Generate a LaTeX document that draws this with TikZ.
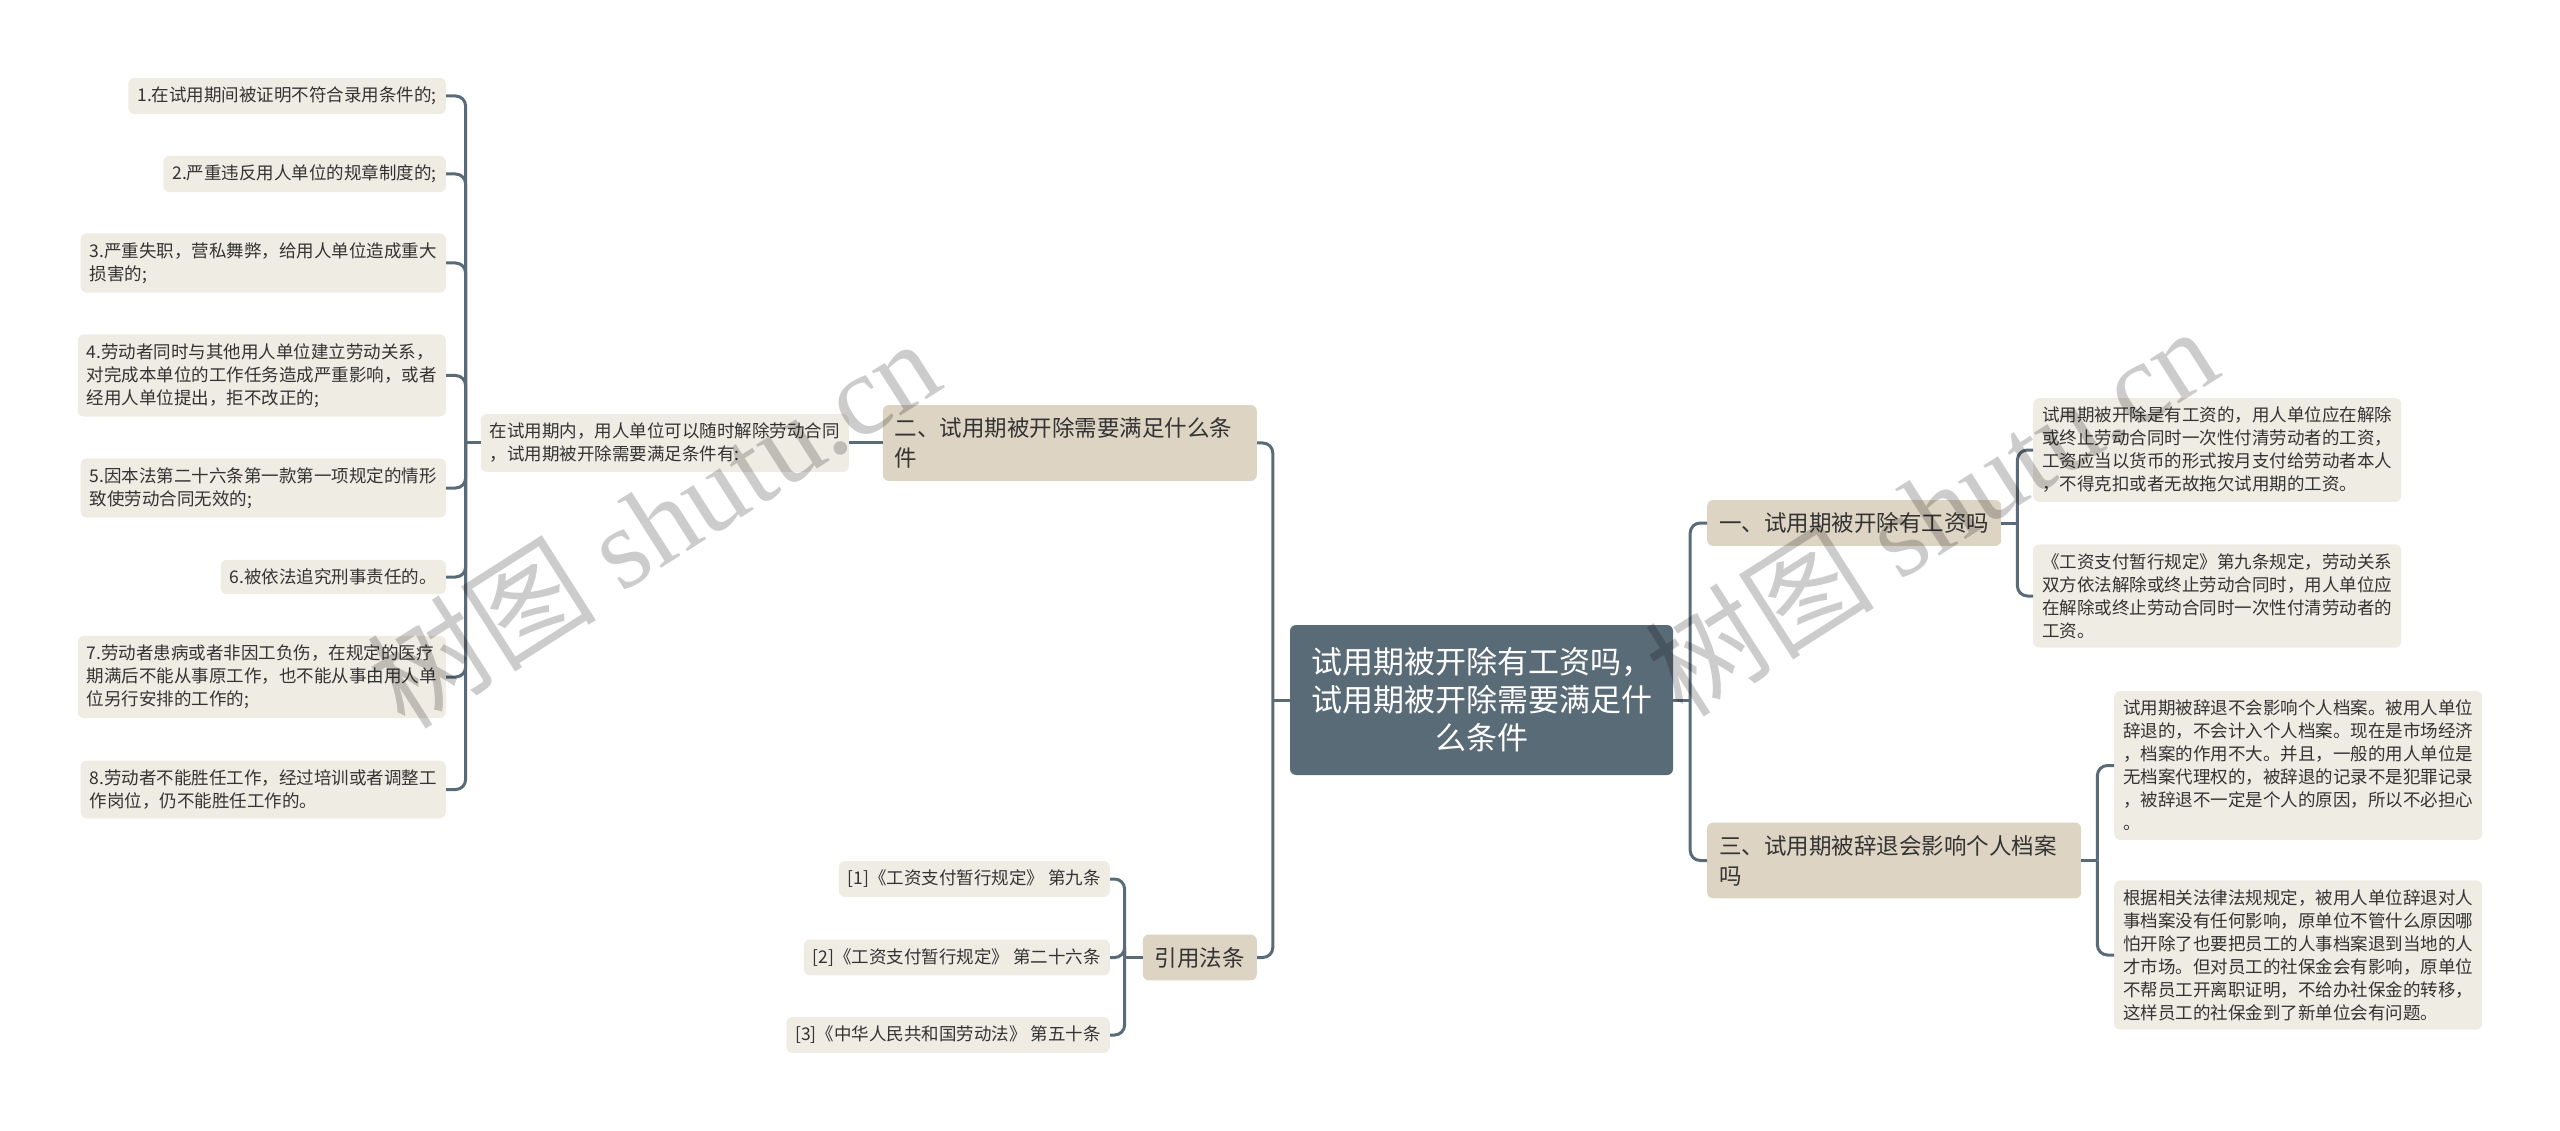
\documentclass[tikz,border=0pt]{standalone}
\usepackage{fontspec}
\setmainfont{Noto Sans CJK SC}
\newfontfamily\wmserif{Liberation Serif}
\usetikzlibrary{calc}

\definecolor{rootfill}{HTML}{5A6B78}
\definecolor{topicfill}{HTML}{DDD4C4}
\definecolor{leaffill}{HTML}{EFECE4}
\definecolor{linecol}{HTML}{5A6B78}
\definecolor{ink}{HTML}{333333}

\begin{document}
\begin{tikzpicture}[x=1pt,y=-1pt,
  root/.style={fill=rootfill,text=white,rounded corners=6pt,align=center,
    minimum width=383pt,minimum height=150pt,font=\fontsize{31}{38}\selectfont},
  topic/.style={fill=topicfill,text=ink,rounded corners=6pt,align=left,
    inner xsep=12pt,inner ysep=12.5pt,font=\fontsize{22.5}{30}\selectfont},
  leaf/.style={fill=leaffill,text=ink,rounded corners=6pt,align=left,
    inner xsep=9pt,inner ysep=9pt,font=\fontsize{17.5}{23}\selectfont},
  conn/.style={draw=linecol,line width=3pt,rounded corners=10pt},
  wm/.style={text=black,text opacity=0.2,font=\fontsize{115}{115}\selectfont}]
  \useasboundingbox (0,0) rectangle (2560,1131);

  % root
  \node[root] (root) at (1481.5,700) {试用期被开除有工资吗，\\试用期被开除需要满足什\\么条件};

  % left topics
  \node[topic,anchor=east,text width=350pt] (t2) at (1257,443) {二、试用期被开除需要满足什么条\\件};
  \node[topic,anchor=east] (tlaw) at (1257,957.5) {引用法条};

  % right topics
  \node[topic,anchor=west] (t1) at (1707,523) {一、试用期被开除有工资吗};
  \node[topic,anchor=west,text width=350pt] (t3) at (1707,860.5) {三、试用期被辞退会影响个人档案\\吗};

  % conditions
  \node[leaf,anchor=east] (mid) at (849,443) {在试用期内，用人单位可以随时解除劳动合同\\，试用期被开除需要满足条件有:};
  \node[leaf,anchor=east] (c1) at (446,96) {1.在试用期间被证明不符合录用条件的;};
  \node[leaf,anchor=east] (c2) at (446,174) {2.严重违反用人单位的规章制度的;};
  \node[leaf,anchor=east] (c3) at (446,263) {3.严重失职，营私舞弊，给用人单位造成重大\\损害的;};
  \node[leaf,anchor=east] (c4) at (446,375.5) {4.劳动者同时与其他用人单位建立劳动关系，\\对完成本单位的工作任务造成严重影响，或者\\经用人单位提出，拒不改正的;};
  \node[leaf,anchor=east] (c5) at (446,488) {5.因本法第二十六条第一款第一项规定的情形\\致使劳动合同无效的;};
  \node[leaf,anchor=east] (c6) at (446,577) {6.被依法追究刑事责任的。};
  \node[leaf,anchor=east] (c7) at (446,677) {7.劳动者患病或者非因工负伤，在规定的医疗\\期满后不能从事原工作，也不能从事由用人单\\位另行安排的工作的;};
  \node[leaf,anchor=east] (c8) at (446,789.5) {8.劳动者不能胜任工作，经过培训或者调整工\\作岗位，仍不能胜任工作的。};

  % laws
  \node[leaf,anchor=east] (law1) at (1110,879) {[1]《工资支付暂行规定》 第九条};
  \node[leaf,anchor=east] (law2) at (1110,957.5) {[2]《工资支付暂行规定》 第二十六条};
  \node[leaf,anchor=east] (law3) at (1110,1035) {[3]《中华人民共和国劳动法》 第五十条};

  % wages
  \node[leaf,anchor=west] (pay1) at (2033,450) {试用期被开除是有工资的，用人单位应在解除\\或终止劳动合同时一次性付清劳动者的工资，\\工资应当以货币的形式按月支付给劳动者本人\\，不得克扣或者无故拖欠试用期的工资。};
  \node[leaf,anchor=west] (pay2) at (2033,596) {《工资支付暂行规定》第九条规定，劳动关系\\双方依法解除或终止劳动合同时，用人单位应\\在解除或终止劳动合同时一次性付清劳动者的\\工资。};

  % archives
  \node[leaf,anchor=west] (arc1) at (2114,765.5) {试用期被辞退不会影响个人档案。被用人单位\\辞退的，不会计入个人档案。现在是市场经济\\，档案的作用不大。并且，一般的用人单位是\\无档案代理权的，被辞退的记录不是犯罪记录\\，被辞退不一定是个人的原因，所以不必担心\\。};
  \node[leaf,anchor=west] (arc2) at (2114,955) {根据相关法律法规规定，被用人单位辞退对人\\事档案没有任何影响，原单位不管什么原因哪\\怕开除了也要把员工的人事档案退到当地的人\\才市场。但对员工的社保金会有影响，原单位\\不帮员工开离职证明，不给办社保金的转移，\\这样员工的社保金到了新单位会有问题。};

  % connectors
  \draw[conn] (root.west) -- ++(-17,0) coordinate (lsp);
  \foreach \n in {t2,tlaw} \draw[conn] (lsp) |- (\n.east);
  \draw[conn] (root.east) -- ++(17,0) coordinate (rsp);
  \foreach \n in {t1,t3} \draw[conn] (rsp) |- (\n.west);
  \draw[conn] (t2.west) -- (mid.east);
  \draw[conn] (mid.west) -- ++(-15,0) coordinate (msp);
  \foreach \n in {c1,c2,c3,c4,c5,c6,c7,c8} \draw[conn] (msp) |- (\n.east);
  \draw[conn] (tlaw.west) -- ++(-18,0) coordinate (lawsp);
  \foreach \n in {law1,law2,law3} \draw[conn] (lawsp) |- (\n.east);
  \draw[conn] (t1.east) -- ++(16,0) coordinate (sp1);
  \foreach \n in {pay1,pay2} \draw[conn] (sp1) |- (\n.west);
  \draw[conn] (t3.east) -- ++(16,0) coordinate (sp3);
  \foreach \n in {arc1,arc2} \draw[conn] (sp3) |- (\n.west);

  % watermark
  \node[wm,rotate=32.5] (wm1) at (653,522) {树图 {\wmserif shutu.cn}};
  \node[wm,rotate=32.5] (wm2) at (1931,510) {树图 {\wmserif shutu.cn}};
\end{tikzpicture}
\end{document}
